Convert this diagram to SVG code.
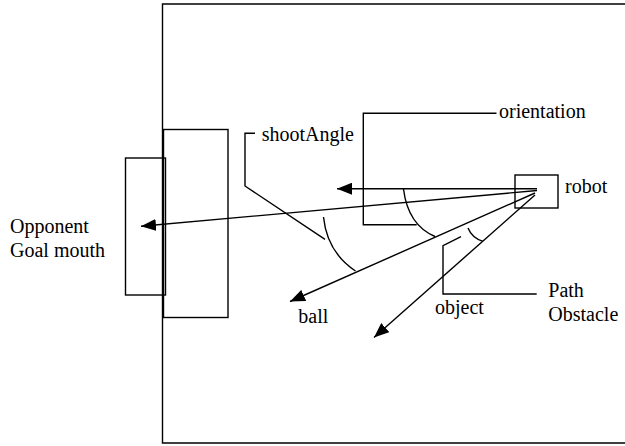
<svg xmlns="http://www.w3.org/2000/svg" width="625" height="446" viewBox="0 0 625 446">
  <style>
    .ln { fill: none; stroke: #000; stroke-width: 1.4; }
  </style>
  <defs>
    <marker id="head" markerUnits="userSpaceOnUse" markerWidth="16" markerHeight="12" viewBox="0 0 16 12" refX="15" refY="6" orient="auto">
      <path d="M0 0 L15 6 L0 12 Z" fill="#000"/>
    </marker>
  </defs>

  <!-- playing field -->
  <g id="field">
    <path class="ln" d="M627 4 H162.5 V443 H627"/>
  </g>

  <!-- all labels share one serif face -->
  <g font-family="Liberation Serif, DejaVu Serif, serif" font-size="20" fill="#000">

  <!-- penalty area and goal -->
  <g id="penalty-area">
    <rect class="ln" x="163.5" y="129.5" width="64.5" height="188"/>
  </g>
  <g id="goal">
    <rect class="ln" x="125.5" y="158" width="40" height="137"/>
    <text x="10" y="233">Opponent</text>
    <text x="10" y="257">Goal mouth</text>
  </g>

  <!-- robot -->
  <g id="robot">
    <rect class="ln" x="515" y="175" width="43" height="33"/>
    <text x="565" y="193">robot</text>
  </g>

  <!-- direction vectors from the robot -->
  <g id="connectors">
    <line class="ln" x1="537" y1="188.7" x2="337" y2="188.7" marker-end="url(#head)"/>
    <line class="ln" x1="537" y1="190.5" x2="141" y2="226.3" marker-end="url(#head)"/>
    <line class="ln" x1="535" y1="193" x2="290" y2="301.5" marker-end="url(#head)"/>
    <line class="ln" x1="535" y1="195" x2="374" y2="337.5" marker-end="url(#head)"/>
  </g>

  <!-- angle arcs -->
  <g id="angles">
    <path class="ln" d="M323.5 217 Q327 252 355.5 271"/>
    <path class="ln" d="M403.5 189 Q408 225 435 236.5"/>
    <path class="ln" d="M468 228 Q472 238 483 241.3"/>
  </g>

  <!-- callouts -->
  <g id="orientation">
    <path class="ln" d="M496.5 113.3 H363.3 V224.7 H416.7"/>
    <text x="499" y="118.3">orientation</text>
  </g>
  <g id="shootAngle">
    <path class="ln" d="M255 133.3 H245 V186 L325 239.3"/>
    <text x="261.7" y="140.7">shootAngle</text>
  </g>
  <g id="path-obstacle">
    <path class="ln" d="M461 236.7 L443 245.7 V294 H536.7"/>
    <text x="548.3" y="297">Path</text>
    <text x="548.3" y="321">Obstacle</text>
  </g>
  <g id="ball">
    <text x="298.3" y="322.7">ball</text>
  </g>
  <g id="object">
    <text x="435" y="314.3">object</text>
  </g>

  </g>
</svg>
